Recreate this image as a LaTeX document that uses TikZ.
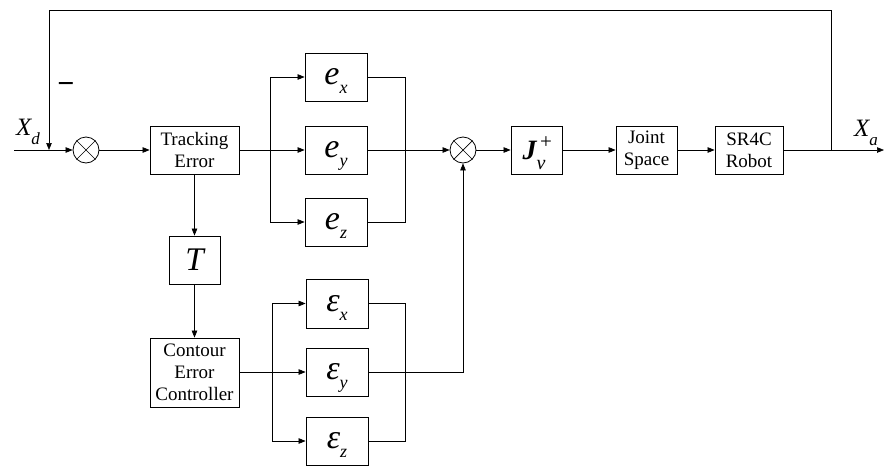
\documentclass[tikz,border=0pt]{standalone}
\usepackage{fontspec}
\setmainfont{Liberation Serif}
\usetikzlibrary{arrows.meta}
\newcommand\subvar[2]{{\fontsize{34}{34}\selectfont\itshape #1}\smash{\raisebox{-9pt}{\fontsize{18}{18}\selectfont\itshape #2}}}
\begin{document}
\begin{tikzpicture}[x=1pt,y=-1pt]
\tikzset{
  blocknode/.style={rectangle,draw,line width=0.8pt,inner sep=0pt,align=center,minimum height=48pt,font=\fontsize{19}{22}\selectfont},
  sumnode/.style={circle,draw,line width=0.8pt,minimum size=26pt,inner sep=0pt},
  signal/.style={inner sep=0pt,font=\fontsize{25}{25}\selectfont\itshape},
  directed/.style={-{Triangle[length=7pt,width=5.5pt]},line width=0.7pt},
  undirected/.style={line width=0.7pt}
}
\useasboundingbox (0,0) rectangle (884,466);
% main path
\coordinate (n_in) at (14,150);
\coordinate (n_out) at (884,150);
\coordinate (n_tap) at (831,150);
\coordinate (n_fb) at (49,150);
\node[sumnode] (n_sum1) at (86,150) {};
\node[blocknode,minimum width=89pt] (n_track) at (194.5,150) {Tracking\\Error};
\node[blocknode,minimum width=62pt] (n_ex) at (336,77) {\subvar{e}{x}};
\node[blocknode,minimum width=62pt] (n_ey) at (336,150) {\subvar{e}{y}};
\node[blocknode,minimum width=62pt] (n_ez) at (336,222) {\subvar{e}{z}};
\node[blocknode,minimum width=51pt,font=\fontsize{33}{33}\selectfont\itshape] (n_t) at (194.5,260) {T};
\node[blocknode,minimum width=89pt,minimum height=69pt] (n_cec) at (194.5,372.5) {Contour\\Error\\Controller};
\node[blocknode,minimum width=62pt,minimum height=49pt] (n_epsx) at (337,303.5) {\subvar{ε}{x}};
\node[blocknode,minimum width=62pt] (n_epsy) at (337,372) {\subvar{ε}{y}};
\node[blocknode,minimum width=62pt] (n_epsz) at (337,441) {\subvar{ε}{z}};
\node[sumnode] (n_sum2) at (463,150) {};
\node[blocknode,minimum width=51pt] (n_jv) at (536.5,150) {{\fontsize{28}{28}\selectfont\bfseries\itshape J}\smash{\rlap{\raisebox{11pt}{\fontsize{21}{21}\selectfont\,+}}\raisebox{-10pt}{\fontsize{20}{20}\selectfont\itshape v}}\hspace{5pt}};
\node[blocknode,minimum width=61pt] (n_joint) at (646.5,150) {Joint\\Space};
\node[blocknode,minimum width=68pt] (n_robot) at (749,150) {SR4C\\Robot};
% crosses in the summing junctions
\foreach \s in {n_sum1,n_sum2} {
  \draw[undirected] (\s.45) -- (\s.225);
  \draw[undirected] (\s.135) -- (\s.-45);
}
% labels
\node[signal] (n_xd) at (28,127) {X\smash{\raisebox{-9pt}{\fontsize{17}{17}\selectfont d}}};
\node[signal] (n_xa) at (866,128) {X\smash{\raisebox{-9pt}{\fontsize{17}{17}\selectfont a}}};
\node[inner sep=0pt,font=\fontsize{30}{30}\selectfont\bfseries] (n_minus) at (66,88) {−};
% forward connections
\draw[directed] (n_in) -- (n_sum1);
\draw[directed] (n_sum1) -- (n_track);
\draw[directed] (n_track) -- (n_ey);
\draw[undirected] (270,77) -- (270,222);
\draw[directed] (270,77) -- (n_ex);
\draw[directed] (270,222) -- (n_ez);
\draw[undirected] (n_ex.east) -- (405,77) -- (405,222) -- (n_ez.east);
\draw[directed] (n_ey) -- (n_sum2);
\draw[directed] (n_track) -- (n_t);
\draw[directed] (n_t) -- (n_cec);
\draw[directed] (n_cec.east |- n_epsy) -- (n_epsy);
\draw[undirected] (272,303.5) -- (272,441);
\draw[directed] (272,303.5) -- (n_epsx);
\draw[directed] (272,441) -- (n_epsz);
\draw[undirected] (n_epsx.east) -- (405,303.5) -- (405,441) -- (n_epsz.east);
\draw[directed] (n_epsy.east) -| (n_sum2.south);
\draw[directed] (n_sum2) -- (n_jv);
\draw[directed] (n_jv) -- (n_joint);
\draw[directed] (n_joint) -- (n_robot);
\draw[directed] (n_robot) -- (n_out);
% feedback
\draw[directed] (n_tap) -- (831,10.7) -- (49,10.7) -- (n_fb);
\end{tikzpicture}
\end{document}
